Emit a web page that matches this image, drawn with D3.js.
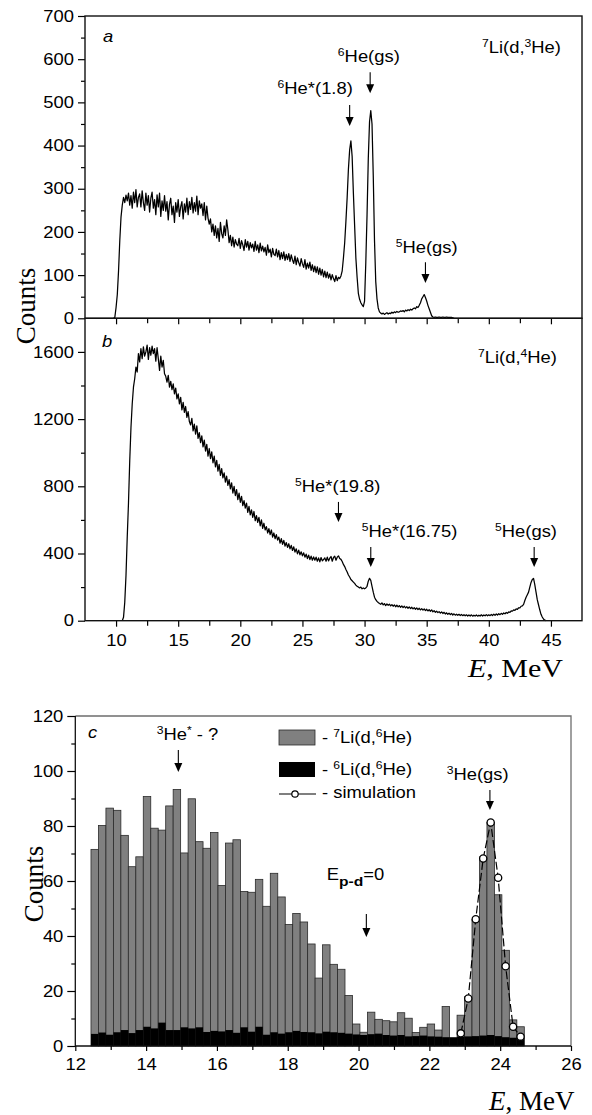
<!DOCTYPE html>
<html><head><meta charset="utf-8">
<script src="https://cdn.jsdelivr.net/npm/d3@7"></script>
<style>body{margin:0;background:#fff} svg{display:block}</style>
</head><body>
<script>
// ---------- DATA ----------
// Panel a: 7Li(d,3He) spectrum, channel calibration (MeV)
const aStartE = 9.8, aStepE = 0.1;
const aCounts = [0, 2,
 25, 55, 110, 180, 235, 262, 280, 268, 285, 272,
 290, 262, 284, 255, 292, 268, 298, 258, 280, 288,
 258, 295, 268, 250, 290, 262, 284, 246, 278, 292,
 255, 275, 240, 286, 258, 290, 236, 272, 250, 284,
 248, 270, 228, 264, 278, 240, 260, 222, 268, 246,
 275, 236, 258, 270, 230, 265, 246, 278, 240, 270,
 252, 280, 244, 268, 248, 283, 240, 272, 255, 265,
 238, 268, 228, 260, 232, 218, 230, 200, 218, 192,
 214, 186, 208, 178, 222, 196, 186, 214, 192, 228,
 205, 175, 192, 168, 188, 165, 182, 172, 168, 185,
 162, 180, 170, 157, 182, 165, 178, 158, 175, 163,
 172, 155, 178, 158, 170, 152, 174, 156, 167, 154,
 164, 146, 170, 152, 160, 142, 162, 148, 145, 160,
 142, 157, 136, 152, 138, 154, 134, 148, 136, 150,
 132, 147, 135, 127, 144, 124, 140, 129, 121, 138,
 126, 118, 136, 114, 128, 116, 130, 111, 124, 108,
 121, 106, 119, 102, 116, 100, 113, 96, 109, 94,
 107, 93, 103, 89, 101, 92, 85, 99, 87, 95,
 92, 98, 110, 140, 175, 225, 280, 345, 390, 411,
 375, 290, 215, 140, 95, 58, 44, 36, 31, 27,
 40, 130, 240, 370, 455, 481, 450, 330, 180, 85,
 45, 24, 15, 12, 10, 12, 9, 11, 13, 10,
 12, 11, 14, 12, 15, 13, 16, 14, 15, 17,
 16, 18, 15, 19, 17, 20, 18, 21, 19, 22,
 24, 22, 27, 25, 30, 36, 45, 50, 55, 48,
 40, 30, 22, 14, 6, 3, 2, 3, 2, 2,
 3, 2, 2, 3, 2, 2, 3, 2, 2, 2,
 2, 1, 0];

// Panel b: 7Li(d,4He) spectrum
const bStartE = 10.5, bStepE = 0.1;
const bCounts = [0, 20, 110, 270, 500,
 700, 950, 1150, 1290, 1390, 1440, 1510, 1480, 1590, 1540,
 1620, 1560, 1630, 1575, 1600, 1640, 1555, 1625, 1580, 1635,
 1590, 1620, 1545, 1625, 1560, 1490, 1575, 1510, 1550, 1470,
 1455, 1420, 1460, 1390, 1425, 1375, 1410, 1350, 1385, 1320,
 1350, 1290, 1330, 1255, 1300, 1240, 1275, 1210, 1245, 1185,
 1165, 1205, 1130, 1170, 1110, 1160, 1085, 1120, 1060, 1100,
 1035, 1075, 1010, 1050, 980, 1025, 965, 1005, 940, 980,
 915, 955, 890, 930, 865, 905, 850, 880, 825, 860,
 805, 840, 785, 820, 760, 800, 745, 780, 720, 760,
 705, 740, 685, 715, 670, 700, 645, 680, 630, 660,
 615, 650, 595, 625, 585, 615, 565, 600, 550, 580,
 540, 560, 522, 548, 512, 540, 498, 522, 488, 512,
 480, 498, 462, 488, 455, 478, 444, 465, 436, 458,
 428, 448, 418, 440, 408, 428, 398, 420, 392, 410,
 386, 404, 378, 396, 370, 390, 364, 384, 360, 380,
 360, 378, 354, 374, 350, 376, 356, 364, 374, 354,
 378, 356, 372, 382, 354, 376, 384, 360, 378, 386,
 370, 365, 352, 335, 322, 305, 290, 272, 260, 245,
 238, 230, 222, 212, 205, 200, 195, 200, 190, 195,
 190, 195, 205, 235, 252, 240, 205, 170, 140, 125,
 115, 108, 102, 98, 106, 94, 102, 90, 100, 92,
 98, 88, 96, 86, 94, 83, 92, 82, 90, 80,
 88, 78, 86, 76, 84, 74, 82, 72, 80, 70,
 78, 68, 76, 66, 74, 64, 72, 63, 70, 60,
 68, 58, 66, 56, 64, 53, 60, 50, 57, 48,
 54, 45, 52, 43, 50, 40, 47, 38, 45, 36,
 43, 34, 41, 33, 39, 32, 38, 31, 37, 30,
 36, 29, 35, 28, 34, 28, 35, 27, 33, 28,
 34, 27, 33, 28, 35, 28, 34, 29, 36, 29,
 35, 30, 37, 31, 39, 32, 40, 34, 42, 36,
 44, 38, 46, 41, 49, 44, 52, 50, 58, 57,
 64, 61, 70, 68, 77, 76, 86, 88, 97, 120,
 140, 155, 170, 200, 228, 245, 252, 215, 170, 125,
 95, 65, 38, 22, 10, 3, 0];

// Panel c: histogram bins
const cBinStart = 12.443, cBinWidth = 0.211;
const c7Li = [71.5, 80.2, 86.5, 85.7, 76.6, 65.2, 68.8, 90.7, 79.2, 78.5,
 87.3, 93.3, 70.2, 89.9, 74.3, 71.9, 77.6, 58.4, 73.8, 75.0,
 56.2, 55.9, 60.6, 50.8, 62.8, 54.2, 44.2, 48.2, 45.1,
 37.1, 24.7, 36.8, 29.7, 27.9, 18.4, 8.0, 5.0, 12.3, 9.7,
 9.2, 8.8, 12.1, 10.1, 4.9, 6.8, 8.0, 5.8, 14.4, 3.1,
 11.2, 17.9, 46.0, 68.8, 81.3, 55.0, 34.8, 9.5, 7.0];
const c6Li = [4.4, 4.9, 4.1, 5.0, 5.8, 4.7, 5.8, 7.0, 6.4, 8.5,
 5.8, 5.8, 6.8, 6.4, 6.8, 5.1, 5.5, 5.3, 5.8, 4.8,
 6.8, 5.2, 7.0, 4.1, 5.0, 4.5, 5.0, 5.5, 5.1,
 5.0, 4.6, 5.2, 5.0, 4.8, 4.5, 4.2, 4.0, 4.3, 4.5,
 4.0, 3.8, 4.0, 3.5, 3.6, 3.8, 3.5, 3.4, 3.2, 3.0,
 3.4, 3.5, 3.6, 3.8, 4.0, 3.6, 3.2, 3.0, 2.8];
const simFirstBin = 49;
const simCounts = [4.6, 17.3, 46.1, 68.2, 81.3, 61.2, 29.0, 7.0, 3.4];

// Tick values
const abXTicks = [10, 15, 20, 25, 30, 35, 40, 45];
const abXMinor = [12.5, 17.5, 22.5, 27.5, 32.5, 37.5, 42.5];
const aYTicks = [0, 100, 200, 300, 400, 500, 600, 700];
const aYMinor = [50, 150, 250, 350, 450, 550, 650];
const bYTicks = [0, 400, 800, 1200, 1600];
const bYMinor = [200, 600, 1000, 1400];
const cXTicks = [12, 14, 16, 18, 20, 22, 24, 26];
const cXMinor = [13, 15, 17, 19, 21, 23, 25];
const cYTicks = [0, 20, 40, 60, 80, 100, 120];
const cYMinor = [10, 30, 50, 70, 90, 110];

// Annotations (data coordinates)
const aNotes = [
  {x: 8.95, y: 640, parts: [['a', 'ital']]},
  {x: 39.45, y: 614, parts: [['7', 'sup'], ['Li(d,'], ['3', 'sup'], ['He)']]},
  {x: 23.0, y: 519, parts: [['6', 'sup'], ['He*(1.8)']], ax: 28.8, ay1: 494, ay2: 445},
  {x: 27.85, y: 593, parts: [['6', 'sup'], ['He(gs)']], ax: 30.45, ay1: 570, ay2: 521},
  {x: 32.5, y: 151, parts: [['5', 'sup'], ['He(gs)']], ax: 34.9, ay1: 130, ay2: 82}
];
const bNotes = [
  {x: 8.87, y: 1629, parts: [['b', 'ital']]},
  {x: 39.13, y: 1534, parts: [['7', 'sup'], ['Li(d,'], ['4', 'sup'], ['He)']]},
  {x: 24.4, y: 766, parts: [['5', 'sup'], ['He*(19.8)']], ax: 27.9, ay1: 707, ay2: 588},
  {x: 29.77, y: 498, parts: [['5', 'sup'], ['He*(16.75)']], ax: 30.5, ay1: 439, ay2: 320},
  {x: 40.5, y: 498, parts: [['5', 'sup'], ['He(gs)']], ax: 43.65, ay1: 439, ay2: 320}
];
const cNotes = [
  {x: 12.36, y: 112, parts: [['c', 'ital']]},
  {x: 14.3, y: 111.3, parts: [['3', 'sup'], ['He'], ['*', 'sup'], [' - ?']], ax: 14.91, ay1: 107.6, ay2: 99.6},
  {x: 22.49, y: 96.7, parts: [['3', 'sup'], ['He(gs)']], ax: 23.71, ay1: 93.1, ay2: 85.8},
  {x: 19.1, y: 60.4, parts: [['E'], ['p-d', 'sub bold'], ['=0']], ax: 20.22, ay1: 48, ay2: 39.6}
];

// ---------- DRAWING ----------
const W = 592, H = 1115;
const svg = d3.select('body').append('svg').attr('width', W).attr('height', H);
svg.append('rect').attr('width', W).attr('height', H).attr('fill', '#fff');

const SANS = "'Liberation Sans', Arial, sans-serif";
const SERIF = "'Liberation Serif', 'Times New Roman', serif";
const SX = 1.15;

function rich(parent, parts, o) {
  const size = o.size || 16;
  const t = parent.append('text')
    .attr('transform', `translate(${o.x},${o.y}) scale(${o.sx || SX},1)`)
    .attr('font-family', o.family || SANS)
    .attr('font-size', size)
    .attr('text-anchor', o.anchor || 'start')
    .attr('fill', '#000');
  let shift = 0;
  parts.forEach(p => {
    const txt = p[0];
    const kinds = (p[1] || '').split(' ');
    const ts = t.append('tspan').text(txt);
    let target = 0;
    if (kinds.includes('sup')) { target = -size * 0.38; ts.attr('font-size', size * 0.66); }
    if (kinds.includes('sub')) { target = size * 0.4; ts.attr('font-size', size * 0.85); }
    if (kinds.includes('bold')) ts.attr('font-weight', 'bold');
    if (kinds.includes('ital')) ts.attr('font-style', 'italic');
    if (target !== shift) ts.attr('dy', target - shift);
    shift = target;
  });
  return t;
}

function arrow(g, x, y1, y2) {
  g.append('line').attr('x1', x).attr('x2', x).attr('y1', y1).attr('y2', y2 - 7)
    .attr('stroke', '#000').attr('stroke-width', 1.1);
  g.append('path').attr('d', `M${x - 4},${y2 - 9}L${x + 4},${y2 - 9}L${x},${y2}Z`).attr('fill', '#000');
}

function styleAxis(g, opts = {}) {
  g.select('.domain').remove();
  g.selectAll('line').attr('stroke', '#000').attr('stroke-width', 1.2);
  g.selectAll('text').attr('font-family', SANS).attr('font-size', opts.size || 16).attr('fill', '#000')
    .attr('transform', `scale(${SX},1)`);
}

function notes(g, list, xs, ys) {
  list.forEach(n => {
    rich(g, n.parts, {x: xs(n.x), y: ys(n.y), size: 16});
    if (n.ax !== undefined) arrow(g, xs(n.ax), ys(n.ay1), ys(n.ay2));
  });
}

// ---- Panels a & b ----
const xAB = d3.scaleLinear([7.5, 47.5], [85, 582]);
const yA = d3.scaleLinear([0, 700], [318.3, 16]);
const yB = d3.scaleLinear([0, 1800], [620.7, 318.3]);

const gA = svg.append('g');
const gB = svg.append('g');

gA.append('path').datum(aCounts)
  .attr('d', d3.line().x((d, i) => xAB(aStartE + i * aStepE)).y(d => yA(d)))
  .attr('fill', 'none').attr('stroke', '#000').attr('stroke-width', 1.25).attr('stroke-linejoin', 'round');
gB.append('path').datum(bCounts)
  .attr('d', d3.line().x((d, i) => xAB(bStartE + i * bStepE)).y(d => yB(d)))
  .attr('fill', 'none').attr('stroke', '#000').attr('stroke-width', 1.25).attr('stroke-linejoin', 'round');

[[yA, 700], [yB, 1800]].forEach(([ys, top]) => {
  svg.append('rect').attr('x', xAB(7.5)).attr('y', ys(top))
    .attr('width', xAB(47.5) - xAB(7.5)).attr('height', ys(0) - ys(top))
    .attr('fill', 'none').attr('stroke', '#111').attr('stroke-width', 1.4);
});

gA.append('g').attr('transform', `translate(${xAB(7.5)},0)`)
  .call(d3.axisLeft(yA).tickValues(aYTicks).tickSize(7).tickPadding(2.6).tickFormat(d3.format('d')))
  .call(styleAxis);
gA.append('g').attr('transform', `translate(${xAB(7.5)},0)`)
  .call(d3.axisLeft(yA).tickValues(aYMinor).tickSize(4).tickFormat(''))
  .call(styleAxis);
gB.append('g').attr('transform', `translate(${xAB(7.5)},0)`)
  .call(d3.axisLeft(yB).tickValues(bYTicks).tickSize(7).tickPadding(2.6).tickFormat(d3.format('d')))
  .call(styleAxis);
gB.append('g').attr('transform', `translate(${xAB(7.5)},0)`)
  .call(d3.axisLeft(yB).tickValues(bYMinor).tickSize(4).tickFormat(''))
  .call(styleAxis);

gA.append('g').attr('transform', `translate(0,${yA(0)})`)
  .call(d3.axisBottom(xAB).tickValues(abXTicks).tickSize(6).tickFormat(''))
  .call(styleAxis);
gA.append('g').attr('transform', `translate(0,${yA(0)})`)
  .call(d3.axisBottom(xAB).tickValues(abXMinor).tickSize(5).tickFormat(''))
  .call(styleAxis);
gB.append('g').attr('transform', `translate(0,${yB(0)})`)
  .call(d3.axisBottom(xAB).tickValues(abXTicks).tickSize(6).tickPadding(7.5).tickFormat(d3.format('d')))
  .call(styleAxis);
gB.append('g').attr('transform', `translate(0,${yB(0)})`)
  .call(d3.axisBottom(xAB).tickValues(abXMinor).tickSize(5).tickFormat(''))
  .call(styleAxis);

notes(gA, aNotes, xAB, yA);
notes(gB, bNotes, xAB, yB);

svg.append('text').attr('transform', 'translate(35,306) rotate(-90)')
  .attr('text-anchor', 'middle').attr('font-family', SERIF).attr('font-size', 27).text('Counts');
rich(svg, [['E', 'ital'], [', MeV']], {x: 468, y: 677, size: 25, family: SERIF, sx: 1.2});

// ---- Panel c ----
const xC = d3.scaleLinear([12, 26], [75.3, 571]);
const yC = d3.scaleLinear([0, 120], [1046, 716]);
const gC = svg.append('g');

const binX0 = i => xC(cBinStart + i * cBinWidth);
gC.append('g').selectAll('rect').data(c7Li).join('rect')
  .attr('x', (d, i) => binX0(i)).attr('width', (d, i) => binX0(i + 1) - binX0(i))
  .attr('y', d => yC(d)).attr('height', d => yC(0) - yC(d))
  .attr('fill', '#808080').attr('stroke', '#2a2a2a').attr('stroke-width', 0.8);
gC.append('g').selectAll('rect').data(c6Li).join('rect')
  .attr('x', (d, i) => binX0(i)).attr('width', (d, i) => binX0(i + 1) - binX0(i))
  .attr('y', d => yC(d)).attr('height', d => yC(0) - yC(d))
  .attr('fill', '#000');

const simX = i => xC(cBinStart + (simFirstBin + i + 0.5) * cBinWidth);
gC.append('path').datum(simCounts)
  .attr('d', d3.line().x((d, i) => simX(i)).y(d => yC(d)))
  .attr('fill', 'none').attr('stroke', '#000').attr('stroke-width', 1.2).attr('stroke-dasharray', '8,3');
gC.append('g').selectAll('circle').data(simCounts).join('circle')
  .attr('cx', (d, i) => simX(i)).attr('cy', d => yC(d)).attr('r', 3.6)
  .attr('fill', '#fff').attr('stroke', '#000').attr('stroke-width', 1.3);

gC.append('path').attr('d', `M${xC(12)},${yC(120)}H${xC(26)}V${yC(0)}`)
  .attr('fill', 'none').attr('stroke', '#6e6e6e').attr('stroke-width', 1.3);
gC.append('path').attr('d', `M${xC(12)},${yC(120)}V${yC(0)}H${xC(26)}`)
  .attr('fill', 'none').attr('stroke', '#111').attr('stroke-width', 1.3);

gC.append('g').attr('transform', `translate(${xC(12)},0)`)
  .call(d3.axisLeft(yC).tickValues(cYTicks).tickSize(8).tickPadding(2.4).tickFormat(d3.format('d')))
  .call(styleAxis);
gC.append('g').attr('transform', `translate(${xC(12)},0)`)
  .call(d3.axisLeft(yC).tickValues(cYMinor).tickSize(4).tickFormat(''))
  .call(styleAxis);
gC.append('g').attr('transform', `translate(0,${yC(0)})`)
  .call(d3.axisBottom(xC).tickValues(cXTicks).tickSize(5).tickPadding(8).tickFormat(d3.format('d')))
  .call(styleAxis);
gC.append('g').attr('transform', `translate(0,${yC(0)})`)
  .call(d3.axisBottom(xC).tickValues(cXMinor).tickSize(4).tickFormat(''))
  .call(styleAxis);

notes(gC, cNotes, xC, yC);

const lg = gC.append('g');
lg.append('rect').attr('x', 279).attr('y', 730).attr('width', 36).attr('height', 15)
  .attr('fill', '#808080').attr('stroke', '#2a2a2a').attr('stroke-width', 0.8);
lg.append('rect').attr('x', 279).attr('y', 762).attr('width', 36).attr('height', 15).attr('fill', '#000');
lg.append('line').attr('x1', 279).attr('x2', 316).attr('y1', 794).attr('y2', 794)
  .attr('stroke', '#000').attr('stroke-width', 1.2);
lg.append('circle').attr('cx', 295).attr('cy', 794).attr('r', 3.2)
  .attr('fill', '#fff').attr('stroke', '#000').attr('stroke-width', 1.2);
rich(lg, [['- '], ['7', 'sup'], ['Li(d,'], ['6', 'sup'], ['He)']], {x: 322, y: 743, size: 16});
rich(lg, [['- '], ['6', 'sup'], ['Li(d,'], ['6', 'sup'], ['He)']], {x: 322, y: 775, size: 16});
rich(lg, [['- simulation']], {x: 322, y: 798, size: 16});

svg.append('text').attr('transform', 'translate(43,884) rotate(-90)')
  .attr('text-anchor', 'middle').attr('font-family', SERIF).attr('font-size', 27).text('Counts');
rich(svg, [['E', 'ital'], [', MeV']], {x: 489, y: 1110, size: 27, family: SERIF, sx: 1.0});
</script>
</body></html>
